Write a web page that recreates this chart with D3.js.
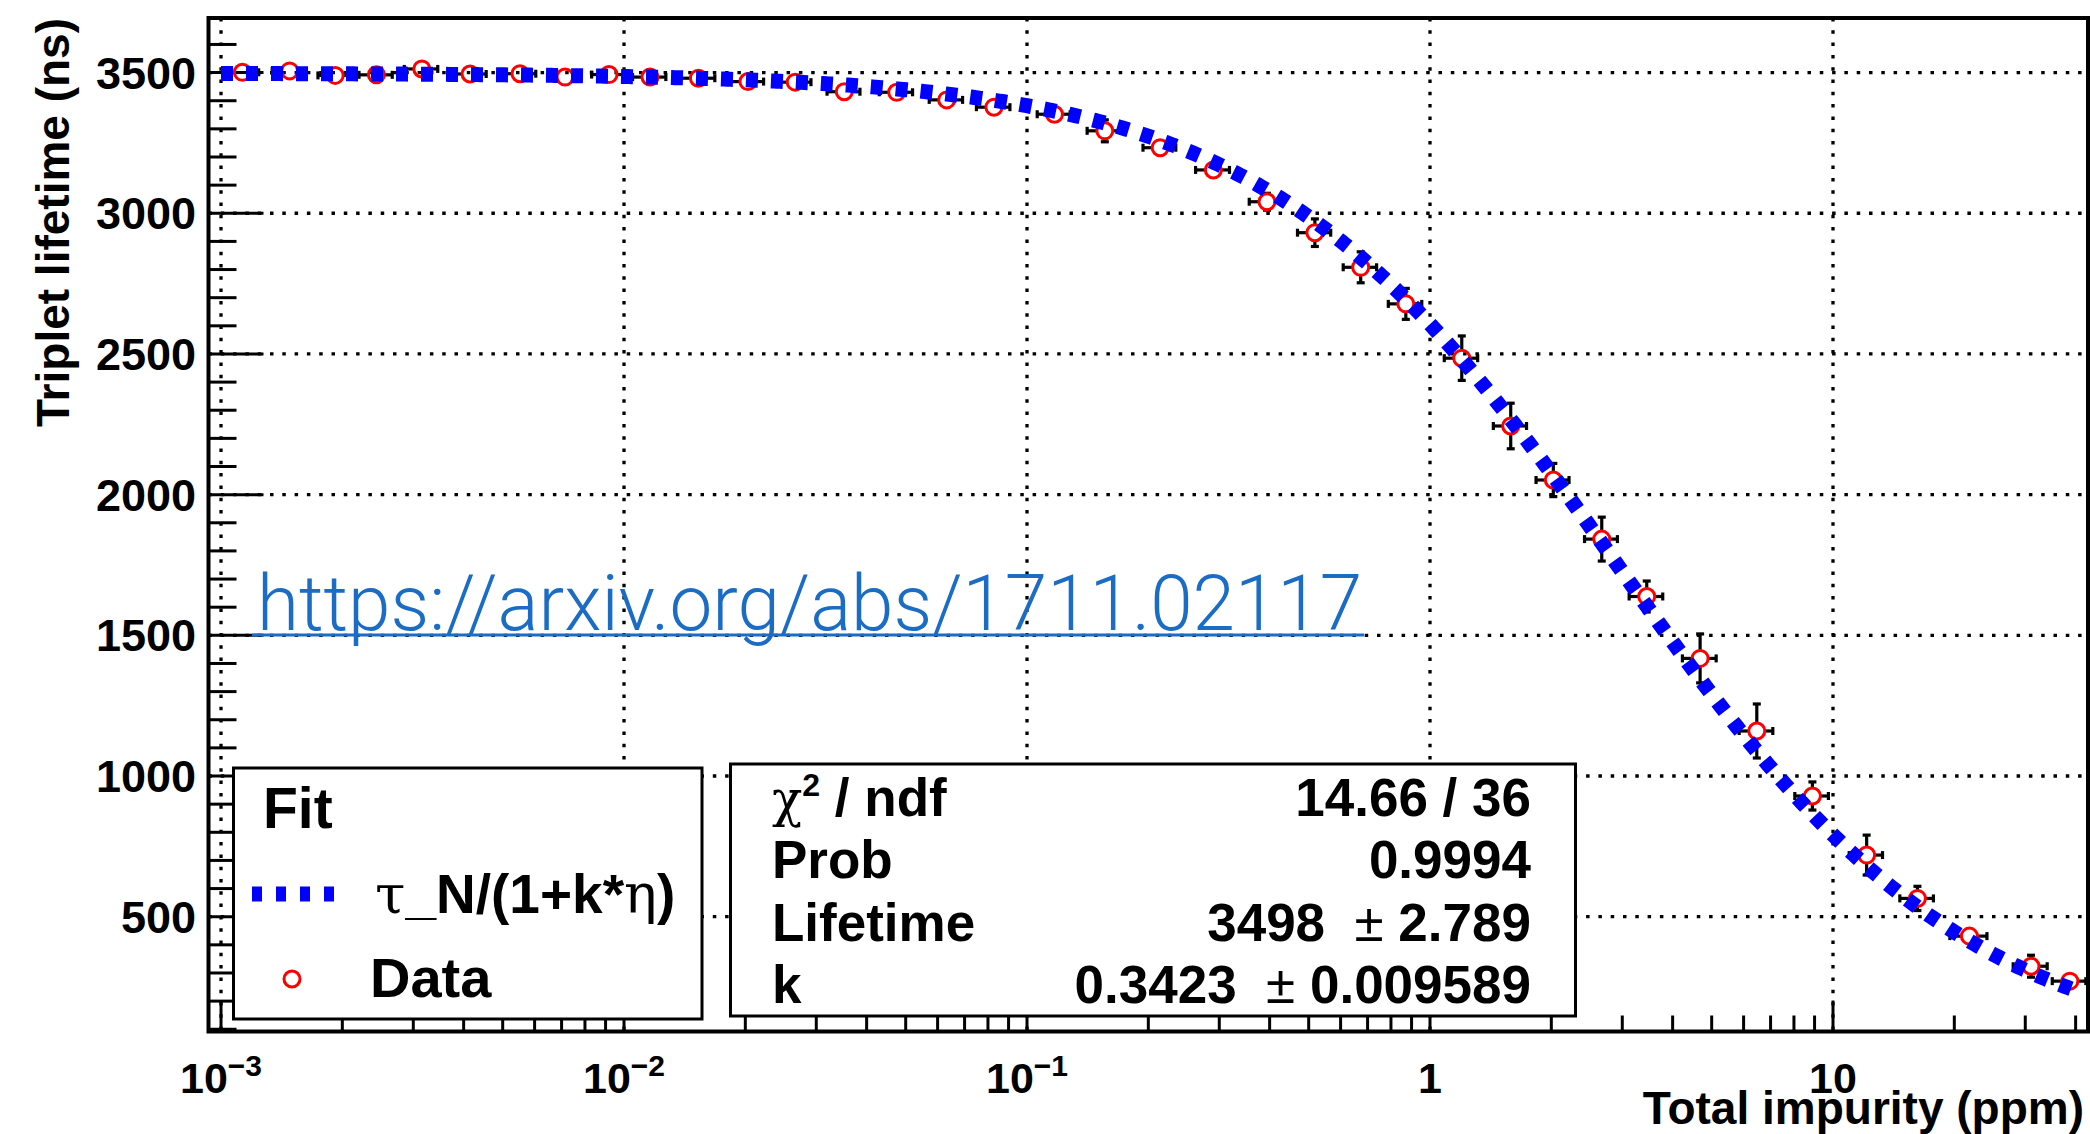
<!DOCTYPE html>
<meta charset="utf-8">
<style>
  body { margin: 0; background: #fff; }
  svg text { font-family: "Liberation Sans", Arial, Helvetica, sans-serif; font-weight: bold; fill: #000; }
  .grid line { stroke: #000; stroke-width: 3.3; stroke-dasharray: 3.5, 8.8; }
  .ticks line { stroke: #000; stroke-width: 3; }
  .errors line { stroke: #000; stroke-width: 3.2; }
  .fit { fill: none; stroke: #0000ff; stroke-width: 15; stroke-dasharray: 12, 13; }
  .box { fill: #fff; stroke: #000; stroke-width: 3; }
  .greek { font-family: "DejaVu Serif", "Liberation Serif", serif; font-weight: normal; }
</style>
<body>
<script src="https://d3js.org/d3.v7.min.js"></script>
<script>

// impurity (ppm) and triplet lifetime (ns)
const impurity = [0.00113, 0.00148, 0.00192, 0.00243, 0.00315, 0.00415, 0.00552, 0.00714,
  0.00918, 0.0116, 0.0153, 0.0203, 0.0266, 0.0352, 0.0475, 0.0632, 0.0828, 0.117, 0.156,
  0.214, 0.290, 0.394, 0.518, 0.673, 0.871, 1.199, 1.586, 2.023, 2.668, 3.45, 4.68, 6.47,
  8.89, 12.12, 16.2, 21.8, 31.0, 38.7];
const lifetime = [3501, 3506, 3490, 3492, 3513, 3495, 3496, 3484, 3493, 3484, 3480, 3468,
  3466, 3432, 3430, 3403, 3377, 3352, 3293, 3233, 3154, 3041, 2931, 2808, 2678, 2485, 2244,
  2052, 1842, 1638, 1418, 1160, 929, 719, 565, 431, 324, 271];
const impurityErr = [0.00011, 0.00014, 0.00018, 0.00023, 0.0003, 0.0004, 0.00052, 0.00068,
  0.00087, 0.0011, 0.0015, 0.0019, 0.0025, 0.0033, 0.0045, 0.006, 0.0079, 0.011, 0.015,
  0.02, 0.028, 0.038, 0.049, 0.064, 0.083, 0.114, 0.15, 0.19, 0.25, 0.33, 0.45, 0.62,
  0.85, 1.15, 1.55, 2.3, 3.0, 3.7];
const lifetimeErr = [10, 10, 10, 10, 10, 10, 10, 10, 10, 10, 10, 12, 12, 12, 14, 14, 16, 20,
  39, 18, 25, 30, 49, 55, 55, 79, 81, 59, 78, 55, 87, 96, 50, 71, 43, 28, 39, 15];

// fit result shown in the stats box: tau_N / (1 + k * eta)
const fitTau = 3498;
const fitK = 0.3423;
const fitRange = [0.001, 39.5];

const xTicks = [0.001, 0.01, 0.1, 1, 10];
const xTickBase = ["10", "10", "10", "1", "10"];
const xTickExp = ["\u22123", "\u22122", "\u22121", "", ""];
const yTicks = [500, 1000, 1500, 2000, 2500, 3000, 3500];

const statNames = ["Prob", "Lifetime", "k"];
const statValues = ["14.66 / 36", "0.9994", "3498", "0.3423"];
const statErrors = ["", "", "2.789", "0.009589"];

const W = 2090, H = 1134;
const frame = {left: 208.5, right: 2088, top: 18, bottom: 1031.5};

const x = d3.scaleLog().domain([9.31e-4, 42.93]).range([frame.left, frame.right]);
const y = d3.scaleLinear().domain([92, 3694]).range([frame.bottom, frame.top]);

const svg = d3.select('body').append('svg')
  .attr('width', W)
  .attr('height', H);

// grid
const grid = svg.append('g').attr('class', 'grid');
grid.selectAll('.gx').data(xTicks).enter().append('line')
  .attr('x1', d => x(d)).attr('x2', d => x(d))
  .attr('y1', frame.top).attr('y2', frame.bottom);
grid.selectAll('.gy').data(yTicks).enter().append('line')
  .attr('x1', frame.left).attr('x2', frame.right)
  .attr('y1', d => y(d)).attr('y2', d => y(d));

// ticks
const ticks = svg.append('g').attr('class', 'ticks');
const yMinor = d3.range(100, 3700, 100);
ticks.selectAll('.ty').data(yMinor).enter().append('line')
  .attr('x1', frame.left)
  .attr('x2', d => frame.left + (d % 500 === 0 ? 55 : 28))
  .attr('y1', d => y(d)).attr('y2', d => y(d));

const xMinor = [];
[0.001, 0.01, 0.1, 1, 10].forEach(dec => {
  for (let m = 1; m <= 9; m++) {
    const v = dec * m;
    if (v >= x.domain()[0] && v <= x.domain()[1]) xMinor.push({v: v, major: m === 1});
  }
});
ticks.selectAll('.tx').data(xMinor).enter().append('line')
  .attr('x1', d => x(d.v)).attr('x2', d => x(d.v))
  .attr('y1', frame.bottom)
  .attr('y2', d => frame.bottom - (d.major ? 31 : 16));

// data points with errors
const pts = impurity.map((v, i) => ({x: v, y: lifetime[i], ex: impurityErr[i], ey: lifetimeErr[i]}));
const r = 8;
const cap = 4;
const err = svg.append('g').attr('class', 'errors');
pts.forEach(p => {
  const cx = x(p.x), cy = y(p.y);
  const xl = x(p.x - p.ex), xr = x(p.x + p.ex);
  const yt = y(p.y + p.ey), yb = y(p.y - p.ey);
  if (cx - xl > r) {
    err.append('line').attr('x1', xl).attr('x2', cx - r).attr('y1', cy).attr('y2', cy);
    err.append('line').attr('x1', xl).attr('x2', xl).attr('y1', cy - cap).attr('y2', cy + cap);
  }
  if (xr - cx > r) {
    err.append('line').attr('x1', cx + r).attr('x2', Math.min(xr, frame.right)).attr('y1', cy).attr('y2', cy);
    if (xr < frame.right) err.append('line').attr('x1', xr).attr('x2', xr).attr('y1', cy - cap).attr('y2', cy + cap);
  }
  if (cy - yt > r) {
    err.append('line').attr('x1', cx).attr('x2', cx).attr('y1', yt).attr('y2', cy - r);
    err.append('line').attr('x1', cx - cap).attr('x2', cx + cap).attr('y1', yt).attr('y2', yt);
    err.append('line').attr('x1', cx).attr('x2', cx).attr('y1', cy + r).attr('y2', yb);
    err.append('line').attr('x1', cx - cap).attr('x2', cx + cap).attr('y1', yb).attr('y2', yb);
  }
});

svg.append('g').selectAll('circle').data(pts).enter().append('circle')
  .attr('cx', d => x(d.x))
  .attr('cy', d => y(d.y))
  .attr('r', r)
  .style('fill', 'none')
  .style('stroke', '#ff0000')
  .style('stroke-width', 3);

// fit curve
const fitX = d3.range(0, 601).map(i => fitRange[0] * Math.pow(fitRange[1] / fitRange[0], i / 600));
const fitLine = d3.line()
  .x(d => x(d))
  .y(d => y(fitTau / (1 + fitK * d)));
svg.append('path')
  .datum(fitX)
  .attr('class', 'fit')
  .attr('d', fitLine);

// url annotation
svg.append('text')
  .attr('x', 257)
  .attr('y', 630)
  .attr('textLength', 1105)
  .attr('lengthAdjust', 'spacingAndGlyphs')
  .style('font-family', 'Roboto, "Open Sans", sans-serif')
  .style('font-weight', 300)
  .style('font-size', '78px')
  .style('fill', '#1a6cc4')
  .text('https://arxiv.org/abs/1711.02117');
svg.append('line')
  .attr('x1', 252).attr('x2', 1364)
  .attr('y1', 635).attr('y2', 635)
  .style('stroke', '#1a6cc4')
  .style('stroke-width', 3);

// legend
const leg = svg.append('g');
leg.append('rect').attr('class', 'box')
  .attr('x', 233.5).attr('y', 768).attr('width', 468.5).attr('height', 251);
leg.append('text').attr('x', 263).attr('y', 828).style('font-size', '57px').text('Fit');
leg.append('line')
  .attr('x1', 252).attr('x2', 336).attr('y1', 894).attr('y2', 894)
  .style('stroke', '#0000ff').style('stroke-width', 15).style('stroke-dasharray', '10, 14');
const ft = leg.append('text').attr('x', 375).attr('y', 913).style('font-size', '55px');
ft.append('tspan').attr('class', 'greek').text('\u03c4');
ft.append('tspan').text('_N/(1+k*');
ft.append('tspan').attr('class', 'greek').text('\u03b7');
ft.append('tspan').text(')');
leg.append('circle').attr('cx', 292).attr('cy', 979).attr('r', r)
  .style('fill', 'none').style('stroke', '#ff0000').style('stroke-width', 3);
leg.append('text').attr('x', 370).attr('y', 997).style('font-size', '56px').text('Data');

// stats box
const st = svg.append('g');
st.append('rect').attr('class', 'box')
  .attr('x', 730.5).attr('y', 764).attr('width', 845).attr('height', 252);
const rowY = [816, 878, 941, 1003];
const chi = st.append('text').attr('x', 772).attr('y', rowY[0]).style('font-size', '53px');
chi.append('tspan').attr('class', 'greek').style('font-size', '50px').text('\u03c7');
chi.append('tspan').attr('dy', -20).style('font-size', '32px').text('2');
chi.append('tspan').attr('dy', 20).text(' / ndf');
statNames.forEach((n, i) => {
  st.append('text').attr('x', 772).attr('y', rowY[i + 1]).style('font-size', '53px').text(n);
});
statValues.forEach((v, i) => {
  const t = st.append('text').attr('x', 1531).attr('y', rowY[i])
    .attr('text-anchor', 'end').style('font-size', '53px').style('white-space', 'pre');
  t.append('tspan').text(v);
  if (statErrors[i]) {
    t.append('tspan').style('font-weight', 'normal').text('  \u00b1 ');
    t.append('tspan').text(statErrors[i]);
  }
});

// frame
svg.append('rect')
  .attr('x', frame.left).attr('y', frame.top)
  .attr('width', frame.right - frame.left).attr('height', frame.bottom - frame.top)
  .style('fill', 'none').style('stroke', '#000').style('stroke-width', 4);

// tick labels
svg.append('g').selectAll('text').data(yTicks).enter().append('text')
  .attr('x', 196)
  .attr('y', d => y(d) + 16)
  .attr('text-anchor', 'end')
  .style('font-size', '45px')
  .text(d => d);

const xl = svg.append('g').selectAll('text').data(xTicks).enter().append('text')
  .attr('x', d => x(d))
  .attr('y', 1093)
  .attr('text-anchor', 'middle')
  .style('font-size', '43px');
xl.append('tspan').text((d, i) => xTickBase[i]);
xl.append('tspan')
  .attr('dy', -17)
  .style('font-size', '30px')
  .text((d, i) => xTickExp[i]);

// axis titles
svg.append('text')
  .attr('x', 2084).attr('y', 1124)
  .attr('text-anchor', 'end')
  .style('font-size', '46px')
  .text('Total impurity (ppm)');
svg.append('text')
  .attr('transform', 'translate(69,18) rotate(-90)')
  .attr('text-anchor', 'end')
  .style('font-size', '46px')
  .text('Triplet lifetime (ns)');

</script>
</body>
</html>
